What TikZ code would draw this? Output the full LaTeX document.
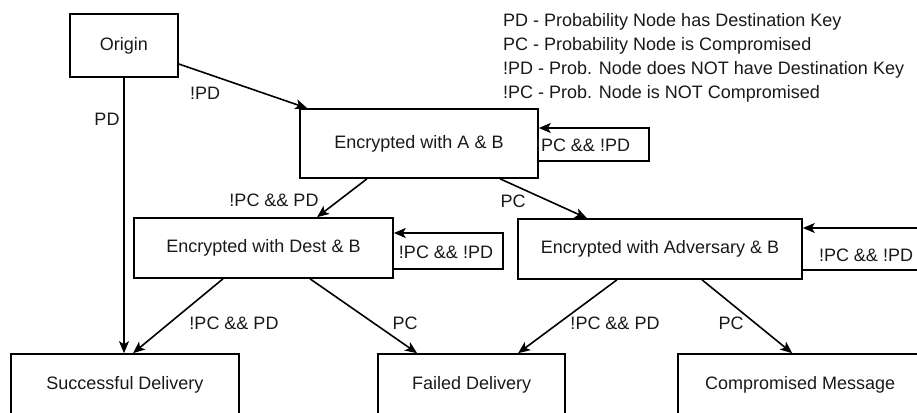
\documentclass[tikz,border=0pt]{standalone}
\usepackage{fontspec}
\setmainfont{Liberation Sans}
\usetikzlibrary{arrows.meta,positioning}

\begin{document}
\begin{tikzpicture}[x=1pt, y=-1pt,
            state/.style={draw, line width=1.6pt, minimum height=60pt, inner sep=0pt},
            every node/.style={align=center, font=\fontsize{18}{24}\selectfont, text=black!90},
            trans/.style={->, >={Stealth[length=12pt,width=10pt,inset=3pt]}, line width=1.6pt}
  ]
  \useasboundingbox (0,0) rectangle (917,412);

  \node[state, minimum width=108pt, minimum height=63pt] (origin) at (124,45.5) {Origin};
  \node[state, minimum width=238pt, minimum height=69pt] (encab) at (419,143.5) {Encrypted with A \& B};
  \node[state, minimum width=259pt] (encdest) at (263.5,248) {Encrypted with Dest \& B};
  \node[state, minimum width=284pt] (encadv) at (660,249) {Encrypted with Adversary \& B};
  \node[state, minimum width=228pt, minimum height=62pt] (success) at (125,385) {Successful Delivery};
  \node[state, minimum width=187pt, minimum height=62pt, right=137.5pt of success] (failed) {Failed Delivery};
  \node[state, minimum width=244pt, minimum height=62pt, right=111.5pt of failed] (compromised) {Compromised Message};

  \node[anchor=north west, align=left, inner sep=0pt] (legend) at (503,13)
    {PD - Probability Node has Destination Key\\
     PC - Probability Node is Compromised\\
     !PD - Prob. Node does NOT have Destination Key\\
     !PC - Prob. Node is NOT Compromised};

  % transitions
  \draw[trans] ([yshift=-18.5pt]origin.east) -- ([xshift=8pt]encab.north west);
  \draw[trans] (origin.south) -- (origin.south |- success.north);
  \draw[trans] ([xshift=-52pt]encab.south) -- ([xshift=53.5pt]encdest.north);
  \draw[trans] ([xshift=81pt]encab.south) -- ([xshift=-73pt]encadv.north);
  \draw[trans] ([xshift=-40.5pt]encdest.south) -- ([xshift=8pt]success.north);
  \draw[trans] ([xshift=46.5pt]encdest.south) -- ([xshift=-54.5pt]failed.north);
  \draw[trans] ([xshift=-43pt]encadv.south) -- ([xshift=46.5pt]failed.north);
  \draw[trans] ([xshift=42pt]encadv.south) -- ([xshift=-8pt]compromised.north);

  % self loops
  \draw[trans] ([yshift=-17.5pt]encab.east) -- ++(110,0) -- ++(0,-33) -- ([yshift=15.5pt]encab.east);
  \draw[trans] ([yshift=-21pt]encdest.east) -- ++(109,0) -- ++(0,-36) -- ([yshift=15pt]encdest.east);
  \draw[trans] ([yshift=-21pt]encadv.east) -- ++(125,0) -- ++(0,-42) -- ([yshift=21pt]encadv.east);

  \node (loopab) at (583,145) {!PC \&\& !PD};
  \node (loopdest) at (446,252) {!PC \&\& !PD};
  \node (loopadv) at (866,255) {!PC \&\& !PD};

  \node (lnpd) at (205,93) {!PD};
  \node (lpd) at (107,119) {PD};
  \node (labdest) at (274,200) {!PC \&\& PD};
  \node (labadv) at (513,201) {PC};
  \node (ldsucc) at (234,323) {!PC \&\& PD};
  \node (ldfail) at (405,323) {PC};
  \node (lafail) at (615,323) {!PC \&\& PD};
  \node (lacomp) at (731,323) {PC};

\end{tikzpicture}
\end{document}
